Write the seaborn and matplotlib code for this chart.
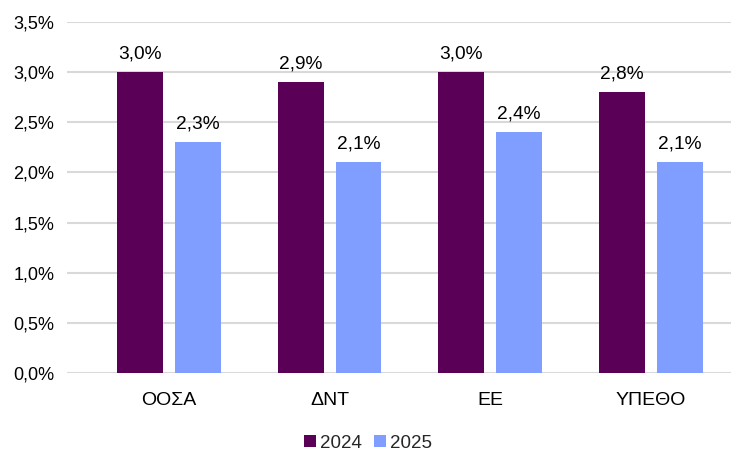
import matplotlib
matplotlib.use("Agg")
import matplotlib.pyplot as plt
import seaborn as sns
import pandas as pd
from matplotlib.ticker import FuncFormatter

categories = ["ΟΟΣΑ", "ΔΝΤ", "ΕΕ", "ΥΠΕΘΟ"]
years = ["2024", "2025"]
values_2024 = [3.0, 2.9, 3.0, 2.8]
values_2025 = [2.3, 2.1, 2.4, 2.1]
colors = ["#5B0057", "#7F9EFF"]

df = pd.DataFrame({
    "cat": categories * 2,
    "year": [years[0]] * 4 + [years[1]] * 4,
    "val": values_2024 + values_2025,
})

sns.set_theme(style="white")
plt.rcParams["font.family"] = ["Liberation Sans", "DejaVu Sans"]

fig = plt.figure(figsize=(7.31, 4.5), dpi=100)
ax = fig.add_axes([67 / 731, 1 - 373 / 450, 1 - 67 / 731, (373 - 22) / 450])

sns.barplot(data=df, x="cat", y="val", hue="year", palette=colors,
            width=0.72, gap=0.206, ax=ax, legend=True, saturation=1,
            linewidth=0, edgecolor="none")

ax.set_ylim(0, 3.5)
ax.set_xlim(-0.635, 3.5)
ax.set_yticks([0, 0.5, 1.0, 1.5, 2.0, 2.5, 3.0, 3.5])
ax.yaxis.set_major_formatter(FuncFormatter(lambda v, p: f"{v:.1f}%".replace(".", ",")))
ax.grid(axis="y", color="#D9D9D9", linewidth=1.5)
ax.set_axisbelow(True)
for s in ax.spines.values():
    s.set_visible(False)
ax.set_xlabel("")
ax.set_ylabel("")
ax.tick_params(axis="x", length=0, pad=14, labelsize=14, colors="#000000")
ax.tick_params(axis="y", length=0, pad=9, labelsize=13, colors="#000000")

for cont in ax.containers:
    ax.bar_label(cont, labels=[f"{v:.1f}%".replace(".", ",") for v in cont.datavalues],
                 padding=7, fontsize=13.8, color="#000000")

ax.legend_.remove()
handles, labels = ax.get_legend_handles_labels()
fig.legend(handles, labels, loc="center", bbox_to_anchor=(368 / 731, 1 - 443 / 450),
           ncol=2, frameon=False, fontsize=13.5, handlelength=0.65, handleheight=0.65,
           handletextpad=0.25, columnspacing=0.6, borderaxespad=0, borderpad=0)

fig.savefig("out.png", dpi=100)
